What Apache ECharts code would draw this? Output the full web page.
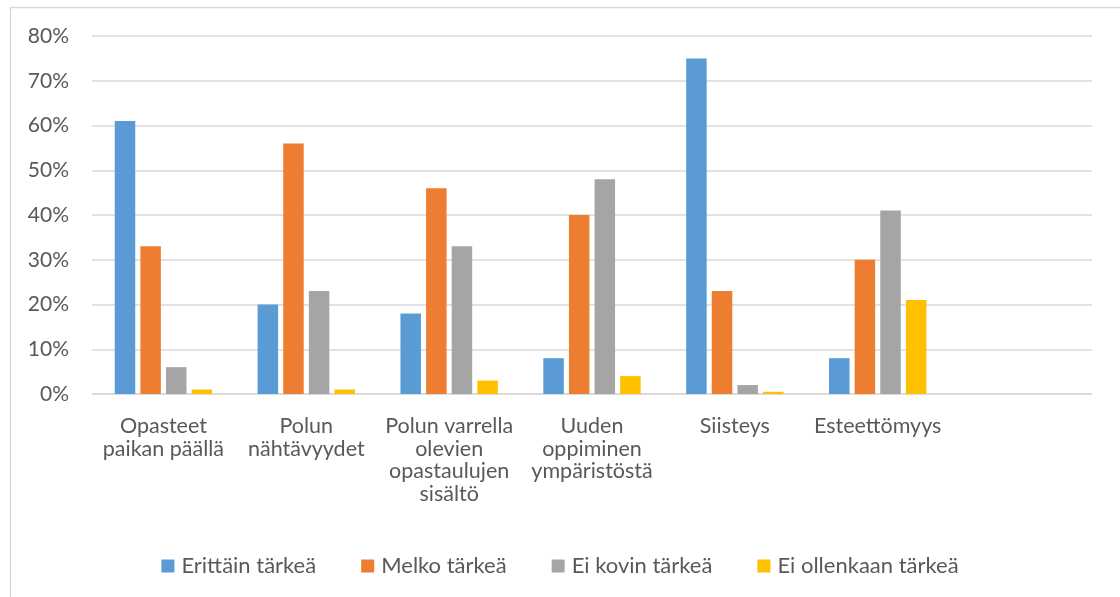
<!DOCTYPE html>
<html>
<head>
<meta charset="utf-8">
<script src="https://cdn.jsdelivr.net/npm/echarts@6/dist/echarts.min.js"></script>
<style>
html,body{margin:0;padding:0;background:#fff;}
#chart{width:1120px;height:597px;}
</style>
</head>
<body>
<div id="chart"></div>
<script>
const categories = [
  'Opasteet\npaikan päällä',
  'Polun\nnähtävyydet',
  'Polun varrella\nolevien\nopastaulujen\nsisältö',
  'Uuden\noppiminen\nympäristöstä',
  'Siisteys',
  'Esteettömyys',
  ''
];
const seriesNames = ['Erittäin tärkeä', 'Melko tärkeä', 'Ei kovin tärkeä', 'Ei ollenkaan tärkeä'];
const erittainTarkea = [61, 20, 18, 8, 75, 8, null];
const melkoTarkea = [33, 56, 46, 40, 23, 30, null];
const eiKovinTarkea = [6, 23, 33, 48, 2, 41, null];
const eiOllenkaanTarkea = [1, 1, 3, 4, 0.5, 21, null];
const yTicks = [0, 10, 20, 30, 40, 50, 60, 70, 80];
const colors = ['#5B9BD5', '#ED7D31', '#A5A5A5', '#FFC000'];

const FONT = 'Lato';
const chart = echarts.init(document.getElementById('chart'), null, {renderer: 'canvas'});
const dataSets = [erittainTarkea, melkoTarkea, eiKovinTarkea, eiOllenkaanTarkea];

chart.setOption({
  animation: false,
  textStyle: {fontFamily: FONT},
  graphic: [{
    type: 'rect',
    shape: {x: 10.5, y: 7.5, width: 1200, height: 700},
    style: {fill: 'none', stroke: '#d9d9d9', lineWidth: 1.3},
    silent: true
  }],
  grid: {left: 92, right: 28, top: 36, bottom: 203, containLabel: false},
  legend: {
    top: 550,
    left: 'center',
    itemWidth: 13,
    itemHeight: 13,
    itemGap: 45,
    icon: 'rect',
    textStyle: {fontSize: 22, lineHeight: 22, color: '#595959', fontFamily: FONT, padding: [0,0,0,2]},
    data: seriesNames
  },
  xAxis: {
    type: 'category',
    data: categories,
    axisLine: {show: true, lineStyle: {color: '#d9d9d9', width: 1.5}},
    axisTick: {show: false},
    axisLabel: {interval: 0, color: '#595959', fontSize: 21.5, lineHeight: 22.6, margin: 21, fontFamily: FONT}
  },
  yAxis: {
    type: 'value',
    min: yTicks[0],
    max: yTicks[yTicks.length - 1],
    interval: 10,
    axisLine: {show: false},
    axisTick: {show: false},
    splitLine: {lineStyle: {color: '#d9d9d9', width: 1.5}},
    axisLabel: {formatter: '{value}%', color: '#595959', fontSize: 21, margin: 23, fontFamily: FONT}
  },
  series: seriesNames.map((n, i) => ({
    name: n,
    type: 'bar',
    data: dataSets[i],
    itemStyle: {color: colors[i]},
    barWidth: 20.5,
    barGap: '25%',
    barCategoryGap: '32%'
  }))
});
</script>
</body>
</html>
